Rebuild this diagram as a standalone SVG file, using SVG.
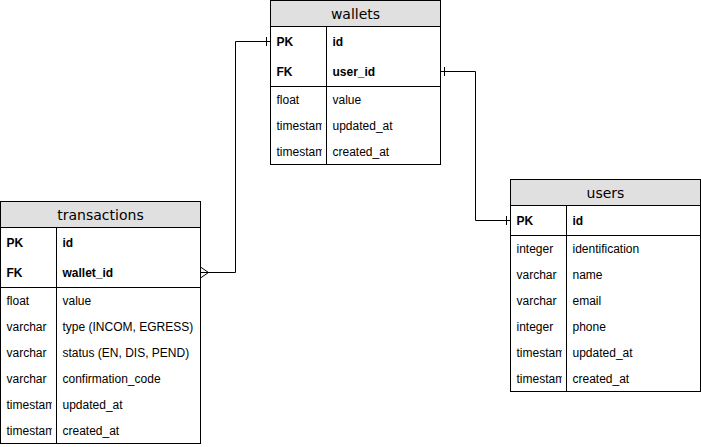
<svg xmlns="http://www.w3.org/2000/svg" width="701" height="447" viewBox="0 0 701 447">
<style>
.box{fill:none;stroke:#000;stroke-width:1}
.hdr{fill:#e0e0e0;stroke:none}
.ln{stroke:#000;stroke-width:1;fill:none}
.title{font-family:"DejaVu Sans",sans-serif;font-size:14px;fill:#000;text-anchor:middle}
.t{font-family:"Liberation Sans",Arial,sans-serif;font-size:12px;fill:#000}
.b{font-weight:bold}
.conn{stroke:#000;stroke-width:1;fill:none}
</style>
<defs>
<clipPath id="cw"><rect x="270" y="0" width="52" height="170"/></clipPath>
<clipPath id="ct"><rect x="0" y="200" width="52" height="247"/></clipPath>
<clipPath id="cu"><rect x="510" y="178" width="52" height="220"/></clipPath>
</defs>
<rect width="701" height="447" fill="#fff"/>
<g id="connectors">
<path class="conn" d="M200.5 272.5H235.5V41.5H270.5"/>
<path class="conn" d="M200.5 267L208.5 272.5L200.5 278"/>
<path class="conn" d="M266.5 37V46"/>
<path class="conn" d="M440.5 71.5H475.5V220.5H510.5"/>
<path class="conn" d="M444.5 67V76"/>
<path class="conn" d="M506.5 216V225"/>
</g>
<g id="wallets">
<rect class="hdr" x="270.5" y="0.5" width="170" height="26"/>
<rect class="box" x="270.5" y="0.5" width="170" height="164"/>
<path class="ln" d="M270.5 26.5H440.5M326.5 26.5V164.5M270.5 86.5H440.5"/>
<text class="title" x="355.5" y="18.5">wallets</text>
<text class="t b" x="276.5" y="46">PK</text>
<text class="t b" x="332.5" y="46">id</text>
<text class="t b" x="276.5" y="76">FK</text>
<text class="t b" x="332.5" y="76">user_id</text>
<g clip-path="url(#cw)">
<text class="t" x="276.5" y="104">float</text>
<text class="t" x="276.5" y="130">timestamp</text>
<text class="t" x="276.5" y="156">timestamp</text>
</g>
<text class="t" x="332.5" y="104">value</text>
<text class="t" x="332.5" y="130">updated_at</text>
<text class="t" x="332.5" y="156">created_at</text>
</g>
<g id="transactions">
<rect class="hdr" x="0.5" y="201.5" width="200" height="26"/>
<rect class="box" x="0.5" y="201.5" width="200" height="242"/>
<path class="ln" d="M0.5 227.5H200.5M56.5 227.5V443.5M0.5 287.5H200.5"/>
<text class="title" x="100.5" y="219.5">transactions</text>
<text class="t b" x="6.5" y="247">PK</text>
<text class="t b" x="62.5" y="247">id</text>
<text class="t b" x="6.5" y="277">FK</text>
<text class="t b" x="62.5" y="277">wallet_id</text>
<g clip-path="url(#ct)">
<text class="t" x="6.5" y="305">float</text>
<text class="t" x="6.5" y="331">varchar</text>
<text class="t" x="6.5" y="357">varchar</text>
<text class="t" x="6.5" y="383">varchar</text>
<text class="t" x="6.5" y="409">timestamp</text>
<text class="t" x="6.5" y="435">timestamp</text>
</g>
<text class="t" x="62.5" y="305">value</text>
<text class="t" x="62.5" y="331">type (INCOM, EGRESS)</text>
<text class="t" x="62.5" y="357">status (EN, DIS, PEND)</text>
<text class="t" x="62.5" y="383">confirmation_code</text>
<text class="t" x="62.5" y="409">updated_at</text>
<text class="t" x="62.5" y="435">created_at</text>
</g>
<g id="users">
<rect class="hdr" x="510.5" y="179.5" width="190" height="26"/>
<rect class="box" x="510.5" y="179.5" width="190" height="212"/>
<path class="ln" d="M510.5 205.5H700.5M566.5 205.5V391.5M510.5 235.5H700.5"/>
<text class="title" x="605.5" y="197.5">users</text>
<text class="t b" x="516.5" y="225">PK</text>
<text class="t b" x="572.5" y="225">id</text>
<g clip-path="url(#cu)">
<text class="t" x="516.5" y="253">integer</text>
<text class="t" x="516.5" y="279">varchar</text>
<text class="t" x="516.5" y="305">varchar</text>
<text class="t" x="516.5" y="331">integer</text>
<text class="t" x="516.5" y="357">timestamp</text>
<text class="t" x="516.5" y="383">timestamp</text>
</g>
<text class="t" x="572.5" y="253">identification</text>
<text class="t" x="572.5" y="279">name</text>
<text class="t" x="572.5" y="305">email</text>
<text class="t" x="572.5" y="331">phone</text>
<text class="t" x="572.5" y="357">updated_at</text>
<text class="t" x="572.5" y="383">created_at</text>
</g>
</svg>
